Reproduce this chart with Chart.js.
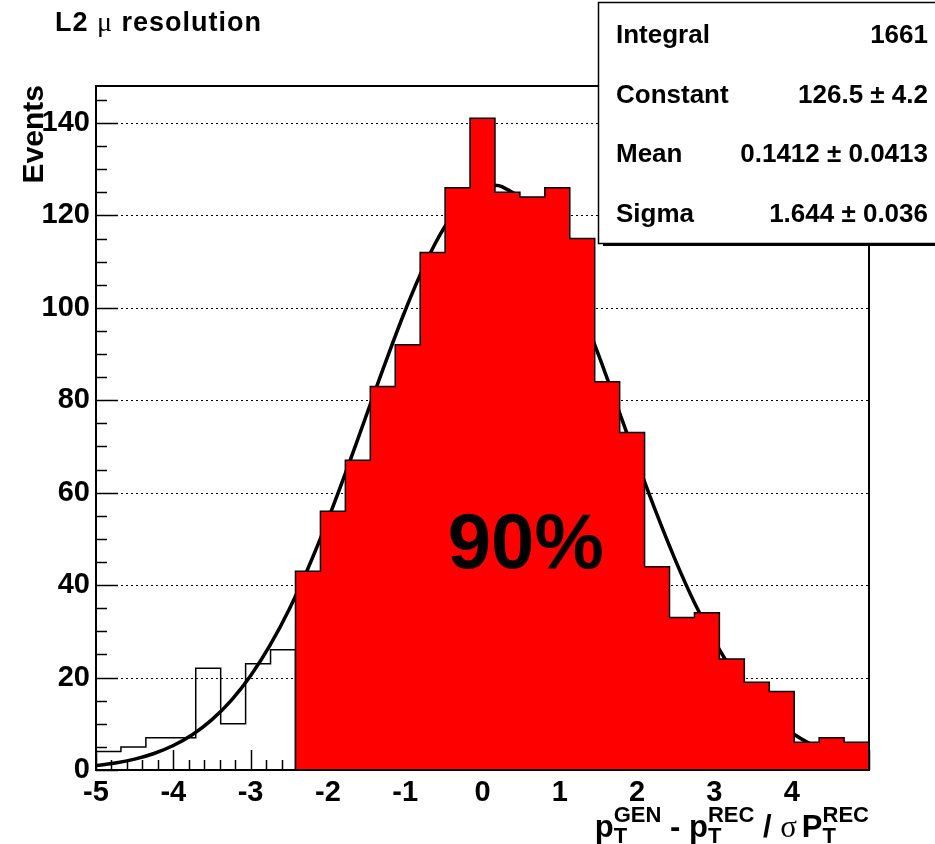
<!DOCTYPE html>
<html>
<head>
<meta charset="utf-8">
<script src="https://cdn.jsdelivr.net/npm/chart.js@4.4.0/dist/chart.umd.min.js"></script>
<style>
  html, body { margin: 0; padding: 0; background: #fff; }
  #wrap { width: 935px; height: 844px; position: relative; }
</style>
</head>
<body>
<div id="wrap"><canvas id="histChart"></canvas></div>
<script>
// histogram range and bin contents (31 bins from -5 to 5)
const xMin = -5;
const xMax = 5;
const yMax = 148;
const binCounts = [4, 5, 7, 7, 22, 10, 23, 26, 43, 56, 67, 83, 92, 112, 126, 141,
                   125, 124, 126, 115, 84, 73, 44, 33, 34, 24, 19, 17, 6, 7, 6];
const firstRedBin = 8; // from here on the bins are filled red (the 90% part)

// gaussian fit curve as drawn
const fitX = [-5, -4.75, -4.5, -4.25, -4, -3.75, -3.5, -3.25, -3, -2.75, -2.5, -2.25,
              -2, -1.75, -1.5, -1.25, -1, -0.75, -0.5, -0.25, 0, 0.14, 0.25, 0.5, 0.75,
              1, 1.25, 1.5, 1.75, 2, 2.25, 2.5, 2.75, 3, 3.25, 3.5, 3.75, 4, 4.25, 4.5,
              4.75, 5];
const fitY = [0.95, 1.51, 2.35, 3.57, 5.30, 7.68, 10.89, 15.07, 20.39, 26.95, 34.80, 43.92,
              54.17, 65.27, 76.86, 88.42, 99.42, 109.22, 117.24, 122.97, 126.03, 126.5, 126.22,
              123.53, 118.11, 110.37, 100.77, 89.89, 78.37, 66.76, 55.56, 45.20, 35.91, 27.89,
              21.16, 15.70, 11.37, 8.05, 5.57, 3.76, 2.49, 1.60];

// axis ticks
const xTickValues = [-5, -4, -3, -2, -1, 0, 1, 2, 3, 4];
const yTickValues = [0, 20, 40, 60, 80, 100, 120, 140];

// stats box
const statNames = ['Integral', 'Constant', 'Mean', 'Sigma'];
const statValues = ['1661', '126.5 \u00b1 4.2', '0.1412 \u00b1 0.0413', '1.644 \u00b1 0.036'];

const bigLabel = { text: '90%', x: 0.56, y: 48.3 };

const SANS = '"Liberation Sans", Arial, Helvetica, sans-serif';
const SERIF = '"Liberation Serif", "Times New Roman", serif';

const binWidth = (xMax - xMin) / binCounts.length;
function edge(i) { return xMin + i * binWidth; }

// outline of bins [from, to) as a step path
function stepPoints(from, to) {
    const pts = [{ x: edge(from), y: 0 }];
    for (let i = from; i < to; i++) {
        pts.push({ x: edge(i), y: binCounts[i] });
        pts.push({ x: edge(i + 1), y: binCounts[i] });
    }
    pts.push({ x: edge(to), y: 0 });
    return pts;
}

// draws a row of text pieces, sub/superscripts stacked
function drawRuns(ctx, runs, x, baseline, align, spacing) {
    ctx.save();
    if (spacing) ctx.letterSpacing = spacing;
    const widths = runs.map(r => {
        ctx.font = r.f;
        if (r.t !== undefined) return ctx.measureText(r.t).width + (r.gap || 0);
        return Math.max(ctx.measureText(r.sub).width, ctx.measureText(r.sup).width) + (r.gap || 0);
    });
    const total = widths.reduce((a, b) => a + b, 0);
    let cx = align === 'right' ? x - total : x;
    ctx.fillStyle = '#000';
    ctx.textAlign = 'left';
    ctx.textBaseline = 'alphabetic';
    runs.forEach((r, i) => {
        ctx.font = r.f;
        const gx = cx + (r.gap || 0);
        if (r.t !== undefined) {
            ctx.fillText(r.t, gx, baseline + (r.dy || 0));
        } else {
            ctx.fillText(r.sub, gx, baseline + 6);
            ctx.fillText(r.sup, gx, baseline - 15);
        }
        cx += widths[i];
    });
    ctx.restore();
}

function line(ctx, x1, y1, x2, y2) {
    ctx.beginPath();
    ctx.moveTo(x1, y1);
    ctx.lineTo(x2, y2);
    ctx.stroke();
}

const decorPlugin = {
    id: 'decor',
    beforeDatasetsDraw(chart) {
        const { ctx, chartArea: a, scales: { x, y } } = chart;
        ctx.save();
        // dotted horizontal grid
        ctx.strokeStyle = '#000';
        ctx.lineWidth = 1;
        ctx.setLineDash([2, 3]);
        yTickValues.forEach(v => {
            if (v === 0) return;
            const py = Math.round(y.getPixelForValue(v)) + 0.5;
            line(ctx, a.left, py, a.right, py);
        });
        ctx.setLineDash([]);
        // inward ticks
        ctx.lineWidth = 1.5;
        for (let v = 0; v < yMax; v += 5) {
            const py = Math.round(y.getPixelForValue(v)) + 0.5;
            line(ctx, a.left, py, a.left + (v % 20 === 0 ? 22 : 11), py);
        }
        for (let k = 0; k <= 50; k++) {
            const px = Math.round(x.getPixelForValue(xMin + k * 0.2)) + 0.5;
            line(ctx, px, a.bottom, px, a.bottom - (k % 5 === 0 ? 20 : 10));
        }
        ctx.restore();
    },
    afterDatasetsDraw(chart) {
        const { ctx, chartArea: a, scales: { x, y } } = chart;
        ctx.save();
        ctx.strokeStyle = '#000';
        ctx.lineWidth = 2;
        ctx.strokeRect(a.left, a.top, a.right - a.left, a.bottom - a.top);
        ctx.fillStyle = '#000';
        ctx.font = 'bold 78px ' + SANS;
        ctx.textAlign = 'center';
        ctx.textBaseline = 'middle';
        ctx.fillText(bigLabel.text, x.getPixelForValue(bigLabel.x), y.getPixelForValue(bigLabel.y));
        ctx.restore();
    },
    afterDraw(chart) {
        const { ctx } = chart;
        ctx.save();
        // stats box with shadow
        ctx.fillStyle = '#000';
        ctx.fillRect(603, 243, 340, 3);
        ctx.fillStyle = '#fff';
        ctx.fillRect(598, 2, 345, 241);
        ctx.strokeStyle = '#000';
        ctx.lineWidth = 1.5;
        ctx.strokeRect(598.5, 2.5, 345, 241);
        ctx.fillStyle = '#000';
        ctx.font = 'bold 26px ' + SANS;
        ctx.textBaseline = 'alphabetic';
        statNames.forEach((name, i) => {
            const by = 43 + i * 59.7;
            ctx.textAlign = 'left';
            ctx.fillText(name, 616, by);
            ctx.textAlign = 'right';
            ctx.fillText(statValues[i], 928, by);
        });

        // y axis title
        ctx.save();
        ctx.translate(43, 85);
        ctx.rotate(-Math.PI / 2);
        ctx.font = 'bold 30px ' + SANS;
        ctx.textAlign = 'right';
        ctx.textBaseline = 'alphabetic';
        ctx.fillText('Events', 0, 0);
        ctx.restore();
        ctx.restore();

        // histogram title
        drawRuns(ctx, [
            { t: 'L2 ', f: 'bold 27px ' + SANS },
            { t: '\u03bc', f: '28px ' + SERIF },
            { t: ' resolution', f: 'bold 27px ' + SANS }
        ], 55, 31, 'left', '1px');

        // x axis title
        const mainF = 'bold 31px ' + SANS;
        const smallF = 'bold 22px ' + SANS;
        drawRuns(ctx, [
            { t: 'p', f: mainF },
            { sub: 'T', sup: 'GEN', f: smallF },
            { t: ' - ', f: mainF },
            { t: 'p', f: mainF },
            { sub: 'T', sup: 'REC', f: smallF },
            { t: ' / ', f: mainF },
            { t: '\u03c3', f: '31px ' + SERIF },
            { t: 'P', f: mainF, gap: 5 },
            { sub: 'T', sup: 'REC', f: smallF }
        ], 869, 837, 'right');
    }
};

const tickFont = { family: SANS, size: 29, weight: 'bold' };

new Chart(document.getElementById('histChart'), {
    type: 'line',
    data: {
        datasets: [
            {
                label: 'filled',
                data: stepPoints(firstRedBin, binCounts.length),
                borderColor: '#000',
                borderWidth: 1.5,
                backgroundColor: '#ff0000',
                fill: 'origin',
                tension: 0,
                pointRadius: 0,
                order: 1
            },
            {
                label: 'fit',
                data: fitX.map((xv, i) => ({ x: xv, y: fitY[i] })),
                borderColor: '#000',
                borderWidth: 3.5,
                fill: false,
                tension: 0.4,
                pointRadius: 0,
                order: 2
            },
            {
                label: 'outline',
                data: stepPoints(0, firstRedBin),
                borderColor: '#000',
                borderWidth: 1.5,
                fill: false,
                tension: 0,
                pointRadius: 0,
                order: 3
            }
        ]
    },
    options: {
        responsive: true,
        maintainAspectRatio: false,
        animation: false,
        events: [],
        layout: { padding: { left: 0, top: 86, right: 66, bottom: 0 } },
        plugins: {
            legend: { display: false },
            tooltip: { enabled: false },
            title: { display: false }
        },
        scales: {
            x: {
                type: 'linear',
                min: xMin,
                max: xMax,
                afterBuildTicks: scale => { scale.ticks = xTickValues.map(v => ({ value: v })); },
                afterFit: scale => { scale.height = 74; },
                grid: { display: false, drawTicks: false },
                border: { display: false },
                ticks: {
                    autoSkip: false,
                    maxRotation: 0,
                    minRotation: 0,
                    padding: 6,
                    color: '#000',
                    font: tickFont
                }
            },
            y: {
                type: 'linear',
                min: 0,
                max: yMax,
                afterBuildTicks: scale => { scale.ticks = yTickValues.map(v => ({ value: v })); },
                afterFit: scale => { scale.width = 96; },
                grid: { display: false, drawTicks: false },
                border: { display: false },
                ticks: {
                    padding: 6,
                    color: '#000',
                    font: tickFont
                }
            }
        }
    },
    plugins: [decorPlugin]
});
</script>
</body>
</html>
